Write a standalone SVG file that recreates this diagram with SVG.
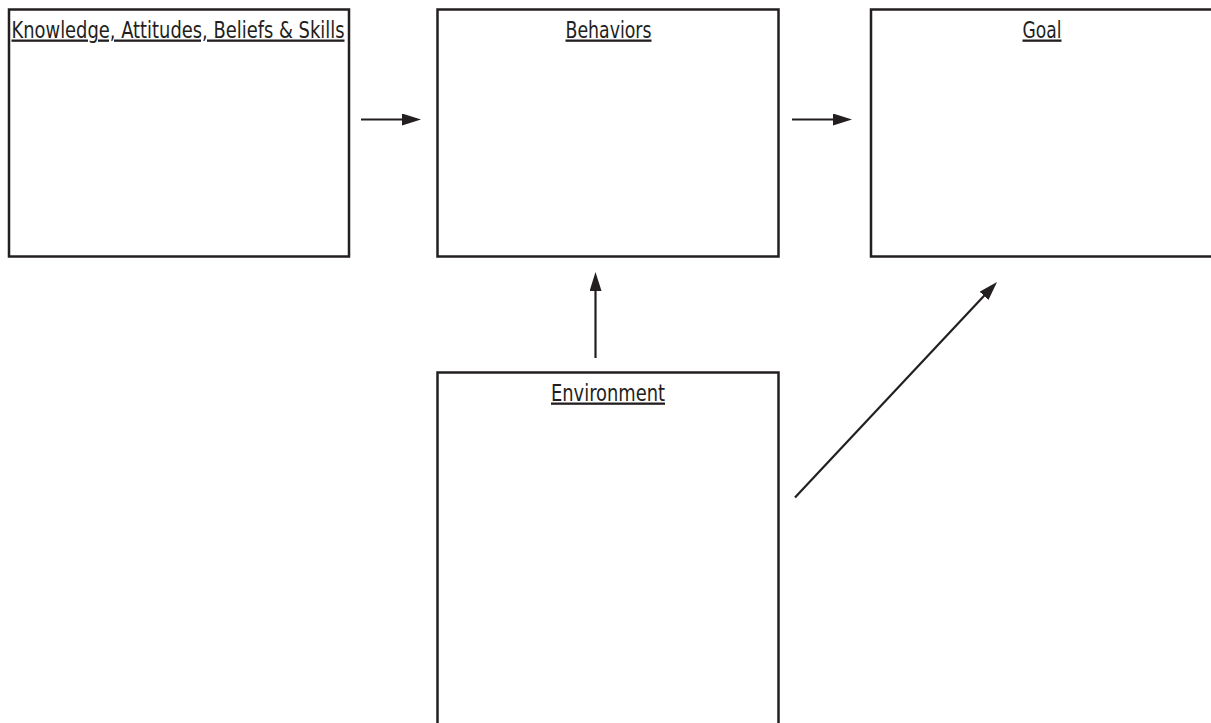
<svg xmlns="http://www.w3.org/2000/svg" width="1211" height="723" viewBox="0 0 1211 723">
<style>
.box{fill:#fff;stroke:#231f20;stroke-width:2.5}
.lbl{font-family:"Liberation Sans Narrow","DejaVu Sans Condensed","Liberation Sans",sans-serif;font-size:23px;fill:#231f20;text-decoration:underline;text-anchor:middle}
.con{stroke:#231f20;stroke-width:2.2;fill:none}
</style>
<defs>
<marker id="ah" markerUnits="userSpaceOnUse" markerWidth="20" markerHeight="13" refX="9" refY="6" orient="auto">
<path d="M0,0 L19,6 L0,12 Z" fill="#231f20"/>
</marker>
</defs>
<rect width="1211" height="723" fill="#fff"/>
<g id="kabs">
<rect class="box" x="9" y="9.5" width="340" height="247"/>
<text class="lbl" x="178" y="37.5" textLength="333" lengthAdjust="spacingAndGlyphs">Knowledge, Attitudes, Beliefs &amp; Skills</text>
</g>
<g id="behaviors">
<rect class="box" x="437.5" y="9.5" width="341" height="247"/>
<text class="lbl" x="608.5" y="37.5" textLength="86" lengthAdjust="spacingAndGlyphs">Behaviors</text>
</g>
<g id="goal">
<rect class="box" x="871" y="9.5" width="345" height="247"/>
<text class="lbl" x="1042" y="37.5" textLength="39" lengthAdjust="spacingAndGlyphs">Goal</text>
</g>
<g id="environment">
<rect class="box" x="437.5" y="372.5" width="341" height="360"/>
<text class="lbl" x="608" y="400.5" textLength="114" lengthAdjust="spacingAndGlyphs">Environment</text>
</g>
<g id="connectors">
<line class="con" x1="361" y1="119.5" x2="411" y2="119.5" marker-end="url(#ah)"/>
<line class="con" x1="792" y1="119.5" x2="842" y2="119.5" marker-end="url(#ah)"/>
<line class="con" x1="595.5" y1="358" x2="595.5" y2="282" marker-end="url(#ah)"/>
<line class="con" x1="795" y1="497.5" x2="990.2" y2="289.3" marker-end="url(#ah)"/>
</g>
</svg>
